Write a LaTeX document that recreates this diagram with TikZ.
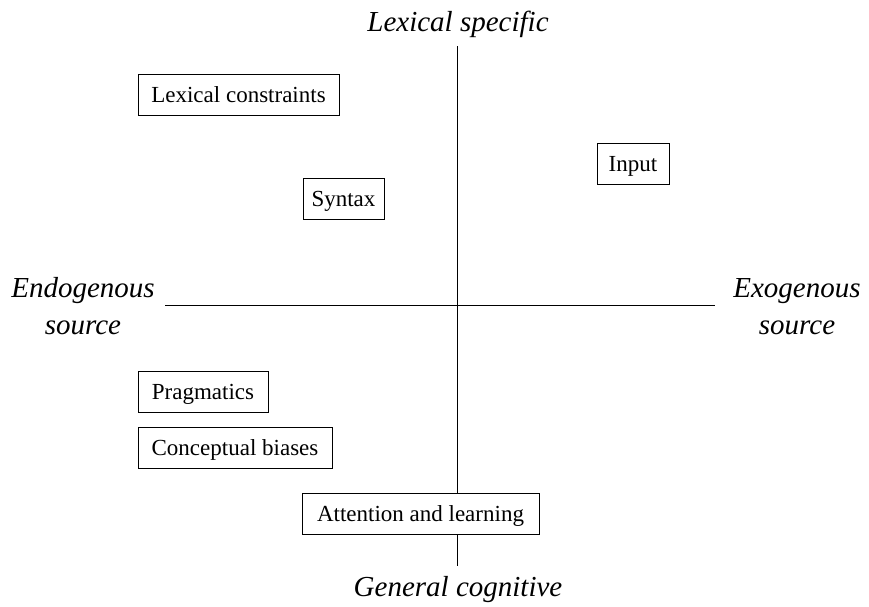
\documentclass[tikz,border=0pt]{standalone}
\usepackage{fontspec}
\setmainfont{Liberation Serif}
\begin{document}
\begin{tikzpicture}[x=1pt,y=-1pt,
  box/.style={draw,line width=0.8pt,fill=white,minimum height=41pt,inner xsep=0pt,inner ysep=0pt,
    font=\fontsize{23}{27}\selectfont,text height=20pt,text depth=5pt},
  axislabel/.style={font=\fontsize{29}{34}\selectfont\itshape,anchor=base,inner sep=0pt},
  axis/.style={line width=0.8pt}]
\useasboundingbox (0,0) rectangle (869,606);
\coordinate (vt) at (457.5,46);
\coordinate (vb) at (457.5,566);
\coordinate (hl) at (165,305);
\coordinate (hr) at (715,305);
\draw[axis] (vt) -- (vb);
\draw[axis] (hl) -- (hr);
\node[box,minimum width=201pt] (lex) at (238.5,94.5) {Lexical constraints};
\node[box,minimum width=81pt] (syn) at (343.5,198.5) {Syntax};
\node[box,minimum width=72pt] (inp) at (633,164) {Input};
\node[box,minimum width=130pt] (prag) at (203,392) {Pragmatics};
\node[box,minimum width=194pt] (conc) at (235,447.5) {Conceptual biases};
\node[box,minimum width=237pt] (att) at (420.5,513.5) {Attention and learning};
\node[axislabel] (ls) at (458,31) {Lexical specific};
\node[axislabel] (gc) at (458,596) {General cognitive};
\node[axislabel] (endo) at (83,297) {Endogenous};
\node[axislabel] (endos) at (83,334) {source};
\node[axislabel] (exo) at (797,297) {Exogenous};
\node[axislabel] (exos) at (797,334) {source};
\end{tikzpicture}
\end{document}
